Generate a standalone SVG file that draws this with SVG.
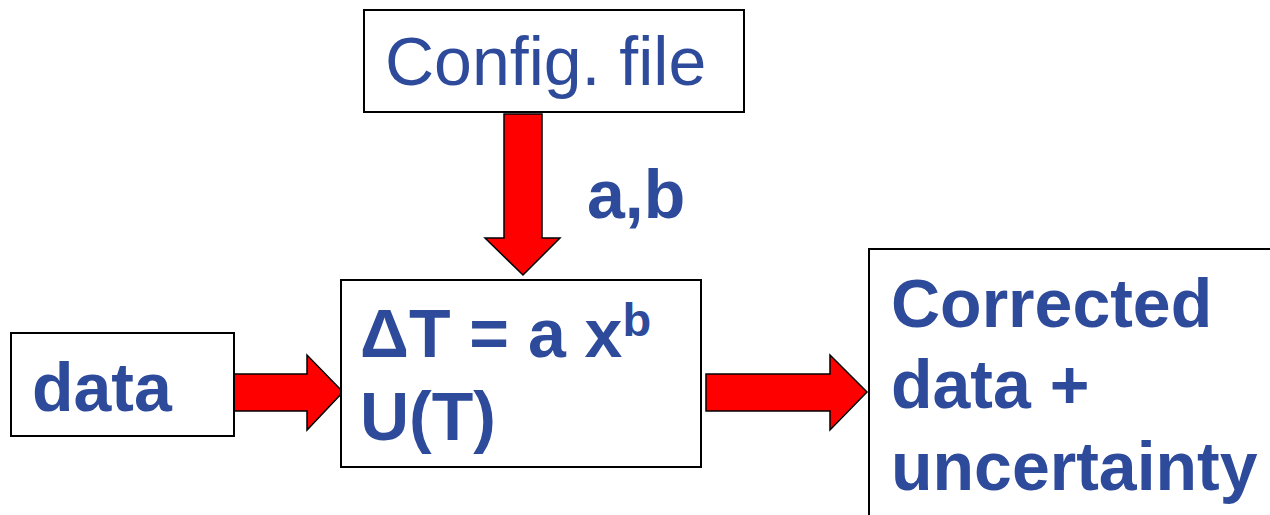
<svg xmlns="http://www.w3.org/2000/svg" width="1270" height="515" viewBox="0 0 1270 515">
<style>
.box{fill:#fff;stroke:#000;stroke-width:2}
.arr{fill:#f00;stroke:#000;stroke-width:1.5;stroke-linejoin:miter}
.t{font-family:"Liberation Sans",Arial,sans-serif;font-size:68px;fill:#2E4B9B}
.b{font-weight:bold}
</style>
<rect width="1270" height="515" fill="#fff"/>
<g id="connectors">
<polygon class="arr" points="504,114 542,114 542,238 560,238 523,275 485,238 504,238"/>
<polygon class="arr" points="234,374 307,374 307,355 343,392 307,430 307,411 234,411"/>
<polygon class="arr" points="706,374 830,374 830,355 867,392 830,430 830,411 706,411"/>
<text class="t b" x="587" y="218">a,b</text>
</g>
<g id="config">
<rect class="box" x="364" y="10" width="380" height="102"/>
<text class="t" x="385" y="85" font-size="69.5">Config. file</text>
</g>
<g id="data">
<rect class="box" x="11" y="333" width="223" height="103"/>
<text class="t b" x="32" y="411">data</text>
</g>
<g id="model">
<rect class="box" x="341" y="280" width="360" height="187"/>
<text class="t b" x="360" y="357" font-size="70">ΔT = a x<tspan font-size="47" dy="-21">b</tspan></text>
<text class="t b" x="360" y="440" font-size="69">U(T)</text>
</g>
<g id="output">
<rect class="box" x="869" y="249" width="420" height="300"/>
<text class="t b" x="891" y="327" font-size="68.5">Corrected</text>
<text class="t b" x="891" y="408" font-size="68.5">data +</text>
<text class="t b" x="891" y="490" font-size="68.5">uncertainty</text>
</g>
</svg>
